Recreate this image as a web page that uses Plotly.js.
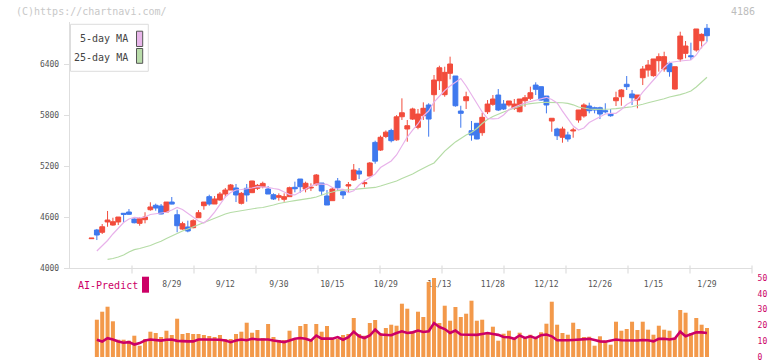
<!DOCTYPE html>
<html><head><meta charset="utf-8">
<script src="https://cdn.plot.ly/plotly-3.0.1.min.js"></script>
<style>html,body{margin:0;padding:0;background:#fff;}#chart{width:772px;height:361px;}</style>
</head><body><div id="chart"></div>
<script>
// ---- data ----
const tickDays = [15,25,35,45,55,65,75,85,95,105,115];
const tickLabels = ['8/29','9/12','9/30','10/15','10/29','11/13','11/28','12/12','12/26','1/15','1/29'];

const openP = [4350,4452,4425,4546,4510,4546,4648,4663,4581,4530, 4573,4690,4742,4733,4663,4780,4631,4463,4487,4479, 4596,4737,4843,4757,4804,4874,4921,4945,4765,4941, 4890,4941,4960,4933,4866,4836,4812,4843,4953,5050, 4933,4945,4983,5003,4851,4796,5027,4901,4968,5039, 5144,4995,5085,5480,5390,5550,5620,5510,5781,5637, 5754,5657,5793,5919,6040,6204,6040,6291,6259,5848, 5969,5617,5704,5594,5840,5927,6036,5930,5919,5880, 5840,5969,5997,6153,6134,6024,5731,5637,5540,5567, 5614,5743,5790,5907,5887,5887,5852,5813,5969,6016, 6162,6048,5977,6239,6329,6263,6439,6341,6408,6106, 6459,6525,6497,6564,6673,6819];
const highP = [4356,4464,4522,4675,4596,4604,4651,4698,4589,4601, 4660,4777,4761,4757,4780,4839,4690,4549,4561,4577, 4686,4780,4866,4851,4898,4945,4992,4992,4898,4992, 5030,4992,5019,4968,4882,4882,4882,4960,5019,5050, 5019,5000,5109,5003,4921,4953,5062,4913,5015,5226, 5179,5039,5250,5500,5560,5620,5640,5800,5997,5743, 5887,5872,5950,5939,6271,6380,6368,6486,6259,5910, 6075,5731,5704,5828,5977,6036,6106,5977,5966,5989, 5989,6036,6134,6185,6134,6024,5763,5652,5664,5605, 5652,5860,5939,5946,5899,5899,5939,5872,6075,6106, 6259,6095,6036,6376,6447,6459,6525,6544,6427,6368, 6779,6670,6650,6811,6760,6869];
const lowP = [4350,4334,4405,4490,4502,4510,4542,4630,4530,4502, 4530,4678,4678,4636,4663,4753,4425,4455,4425,4472, 4596,4690,4737,4757,4796,4836,4921,4780,4751,4784, 4885,4921,4941,4874,4804,4796,4784,4843,4894,4889, 4894,4909,4972,4862,4745,4796,4913,4816,4886,5027, 5050,4953,5085,5230,5380,5530,5480,5500,5743,5488, 5743,5634,5743,5547,5840,6095,6016,6220,5899,5652, 5872,5500,5516,5558,5813,5910,5848,5860,5899,5860, 5833,5899,5977,6036,5969,5821,5605,5508,5476,5488, 5535,5711,5770,5821,5821,5754,5821,5781,5907,5910, 6095,5919,5880,6153,6251,6251,6310,6310,6251,6100, 6427,6467,6447,6544,6584,6662];
const closeP = [4356,4393,4490,4569,4549,4604,4636,4636,4537,4584, 4604,4722,4710,4640,4780,4756,4502,4526,4440,4561, 4655,4780,4757,4816,4874,4921,4980,4863,4882,4863, 5027,4976,4999,4874,4816,4854,4843,4948,4936,4960, 5000,4953,5097,4909,4745,4933,4948,4863,4983,5156, 5109,5007,5238,5260,5540,5600,5500,5780,5828,5676, 5872,5813,5880,5754,6212,6356,6302,6400,5910,5821, 6016,5567,5520,5774,5930,5989,5860,5872,5966,5930, 5989,6004,6063,6103,5977,5919,5763,5558,5637,5520, 5625,5860,5919,5852,5860,5813,5840,5793,6004,6095, 6134,6004,6036,6341,6388,6459,6486,6486,6310,6368, 6728,6611,6486,6811,6748,6732];
const ma5 = [null,4205,4264,4329,4405,4469,4540,4581,4599,4593, 4604,4634,4645,4651,4660,4687,4716,4692,4645,4599, 4557,4534,4587,4663,4751,4839,4892,4921,4927,4933, 4945,4960,4960,4953,4939,4929,4898,4868,4863,4901, 4939,4968,4992,4992,4988,4951,4933,4929,4892,4913, 4980,5027,5068,5109,5185,5226,5262,5332,5438,5543, 5625,5696,5790,5848,5954,6024,6089,6142,6189,6230, 6142,6036,5931,5837,5760,5755,5760,5801,5866,5895, 5919,5942,5958,5978,5997,6009,5983,5942,5848,5760, 5672,5625,5649,5713,5749,5784,5813,5821,5821,5866, 5925,5960,5989,6071,6136,6212,6283,6359,6418,6429, 6435,6441,6447,6506,6600,6658];
const ma25 = [null,null,null,4108,4117,4135,4158,4194,4221,4235, 4249,4270,4296,4319,4352,4384,4417,4440,4464,4489, 4511,4537,4561,4593,4616,4640,4657,4669,4677,4687, 4698,4710,4716,4728,4745,4763,4778,4786,4796,4804, 4812,4825,4839,4863,4883,4898,4915,4919,4921,4927, 4935,4941,4946,4951,4968,4989,5003,5027,5056,5080, 5109,5144,5179,5209,5238,5308,5377,5431,5486,5527, 5567,5596,5643,5702,5749,5784,5813,5836,5860,5881, 5907,5925,5934,5942,5948,5949,5949,5948,5945,5937, 5921,5895,5881,5872,5868,5868,5868,5872,5877,5881, 5890,5898,5910,5928,5945,5958,5975,5992,6013,6025, 6040,6060,6083,6130,6189,6244];
const volume = [null,37.3,45.3,50.3,35.7,17.3,17.3,16.3,21.3,11.3, 18,25.3,24,20,26.3,22,38.3,23,24,23, 23,22,21,20,22,18,18,23,25.3,34.3, 24.3,27,19,33,20,17,17,26.3,17.3,31, 33,18,33,25.3,31,19,18,22,23,39, 23,21.3,34,37,24,29,32.3,31.3,53.3,48.3, 25.7,45.3,40,75,80,34,51.3,36.3,50,40, 43.3,56.3,36.3,37.3,24,30.3,16.3,23.3,26.3,19, 24.3,20,22.3,20,24.7,33.3,55.3,32.3,24,22.3, 34.3,28,20,20.3,11.3,20.7,16.3,12.3,35.3,26.3, 28,35.3,27,35.3,27.3,22.3,31.3,27.3,26.3,19.3, 47,44.3,24,39,32.3,29];
const aiPredict = [null,10.9,9.8,11.9,11.1,9.8,9,9.4,7.9,8.8, 10.4,11.1,10.9,10.4,10.9,11.1,10.2,9.9,9.9,9.9, 11.1,11.1,11.1,11.1,10.9,10.4,9.4,10.4,11.1,10.6, 11.5,11.1,11.1,11.1,10.4,9.9,9.4,10.4,11.6,12, 11.6,10.4,13.6,11.6,11.6,11.6,12.6,10.9,12.5,16, 13.1,12,13.6,17.3,14.2,14.2,13.8,15.2,16.3,15.2, 15.6,16.7,15.8,16.3,21.5,19,17.7,15.2,16.7,14.2, 14,14,14,14.6,15.2,14.6,14,12.7,12.5,11.5, 13.6,12.1,13.1,11.9,13.8,14.2,13.1,10.6,10.4,10.6, 10.8,11.1,11.5,11.5,10.8,9.9,9.7,10.4,11.1,10.6, 10.4,10.6,10.4,10.8,10.6,9.9,11.5,11.5,11.1,11.7, 16,13.1,14.6,15.6,15.6,15.2];
const aiTicks = [0,10,20,30,40,50];
const priceTicks = [4000,4600,5200,5800,6400];

// ---- layout helpers (pixel -> paper) ----
const W=772,H=361,L=70,R=20,T=22,B=4;
const PW=W-L-R, PH=H-T-B;
const px = v => (v-L)/PW;
const py = v => (H-B-v)/PH;
const days = openP.map((_, i) => i);
const LOWTOP = 278;               // top pixel of the lower panel

const RED='#f24c3c', BLUE='#3f79ee', ORANGE='#f3994a', CRIM='#cc0066';
const MONO='DejaVu Sans Mono, monospace';

const traces = [
  {type:'scatter', mode:'lines', x:days, y:ma25, xaxis:'x', yaxis:'y',
   line:{color:'#b5dca6', width:1.2}, hoverinfo:'skip', showlegend:false},
  {type:'scatter', mode:'lines', x:days, y:ma5, xaxis:'x', yaxis:'y',
   line:{color:'#e8b2ea', width:1.2}, hoverinfo:'skip', showlegend:false},
  {type:'candlestick', x:days, open:openP, high:highP, low:lowP, close:closeP,
   xaxis:'x', yaxis:'y', whiskerwidth:0,
   increasing:{line:{color:RED, width:1}, fillcolor:RED},
   decreasing:{line:{color:BLUE, width:1}, fillcolor:BLUE},
   hoverinfo:'skip', showlegend:false},
  {type:'bar', x:days, y:volume, xaxis:'x', yaxis:'y2', width:0.75,
   marker:{color:ORANGE, line:{width:0}}, hoverinfo:'skip', showlegend:false},
  {type:'scatter', mode:'lines', x:days, y:aiPredict, xaxis:'x', yaxis:'y3',
   line:{color:CRIM, width:2.6}, hoverinfo:'skip', showlegend:false}
];

const shapes = [];
// x axis line
shapes.push({type:'line', xref:'paper', yref:'paper', x0:px(65), x1:px(752), y0:py(268.5), y1:py(268.5), line:{color:'#dedede', width:1.2}, layer:'below'});
// x tick marks
for (let k=0;k<=10;k++){ const xp = 132+62*k;
  shapes.push({type:'line', xref:'paper', yref:'paper', x0:px(xp), x1:px(xp), y0:py(265.5), y1:py(273.5), line:{color:'#dedede', width:1.2}, layer:'below'}); }
// legend box
shapes.push({type:'rect', xref:'paper', yref:'paper', x0:px(70.5), x1:px(148.3), y0:py(71.3), y1:py(24.3), line:{color:'#dddddd', width:1}, fillcolor:'#ffffff', layer:'above'});
shapes.push({type:'rect', xref:'paper', yref:'paper', x0:px(136.5), x1:px(142.7), y0:py(46.5), y1:py(31.2), line:{color:'#555555', width:1}, fillcolor:'#e8b6ea', layer:'above'});
shapes.push({type:'rect', xref:'paper', yref:'paper', x0:px(136.5), x1:px(142.7), y0:py(63.3), y1:py(48.5), line:{color:'#555555', width:1}, fillcolor:'#b9dcaa', layer:'above'});
// AI-Predict swatch
shapes.push({type:'rect', xref:'paper', yref:'paper', x0:px(142), x1:px(149), y0:py(292.7), y1:py(276.7), line:{width:0}, fillcolor:CRIM, layer:'above'});

const annotations = [
  {text:'(C)https://chartnavi.com/', xref:'paper', yref:'paper', x:px(14), y:py(12), xanchor:'left', yanchor:'middle', showarrow:false, font:{family:MONO, size:10, color:'#c8c8c8'}},
  {text:'4186', xref:'paper', yref:'paper', x:px(757), y:py(12), xanchor:'right', yanchor:'middle', showarrow:false, font:{family:MONO, size:10, color:'#bdbdbd'}},
  {text:'5-day MA', xref:'paper', yref:'paper', x:px(130), y:py(39), xanchor:'right', yanchor:'middle', showarrow:false, font:{family:MONO, size:10, color:'#444'}},
  {text:'25-day MA', xref:'paper', yref:'paper', x:px(130), y:py(57.3), xanchor:'right', yanchor:'middle', showarrow:false, font:{family:MONO, size:10, color:'#444'}},
  {text:'AI-Predict', xref:'paper', yref:'paper', x:px(75.5), y:py(285.5), xanchor:'left', yanchor:'middle', showarrow:false, font:{family:MONO, size:10, color:CRIM}}
];

const layout = {
  width:W, height:H, margin:{l:L, r:R, t:T, b:B, pad:0},
  paper_bgcolor:'#fff', plot_bgcolor:'rgba(0,0,0,0)', showlegend:false,
  boxgap:0.1, boxgroupgap:0,
  xaxis:{range:[(L-91.5)/5.352, (L+PW-91.5)/5.352], tickvals:tickDays, ticktext:tickLabels,
    ticks:'outside', ticklen:8, tickcolor:'rgba(0,0,0,0)', showline:false, showgrid:false, zeroline:false,
    tickfont:{family:MONO, size:8, color:'#555'}, rangeslider:{visible:false}, fixedrange:true},
  yaxis:{domain:[py(268.5),1], range:[4000, 4000+(268.5-T)*11.736], tickvals:priceTicks,
    ticks:'outside', ticklen:5, tickcolor:'#dedede', showline:true, linecolor:'#dedede', linewidth:1.2,
    showgrid:false, zeroline:false, tickfont:{family:MONO, size:8, color:'#555'}, ticklabelstandoff:3},
  yaxis2:{domain:[0, py(LOWTOP)], range:[0, H-B-LOWTOP], visible:false, anchor:'x'},
  yaxis3:{overlaying:'y2', side:'right', anchor:'x', range:[0,50], tickvals:aiTicks,
    ticks:'outside', ticklen:3, tickcolor:'rgba(0,0,0,0)', showline:false, showgrid:false, zeroline:false,
    ticklabeloverflow:'allow', tickfont:{family:MONO, size:8, color:CRIM}},
  shapes:shapes, annotations:annotations
};

Plotly.newPlot('chart', traces, layout, {staticPlot:true, displayModeBar:false});
</script>
</body></html>
